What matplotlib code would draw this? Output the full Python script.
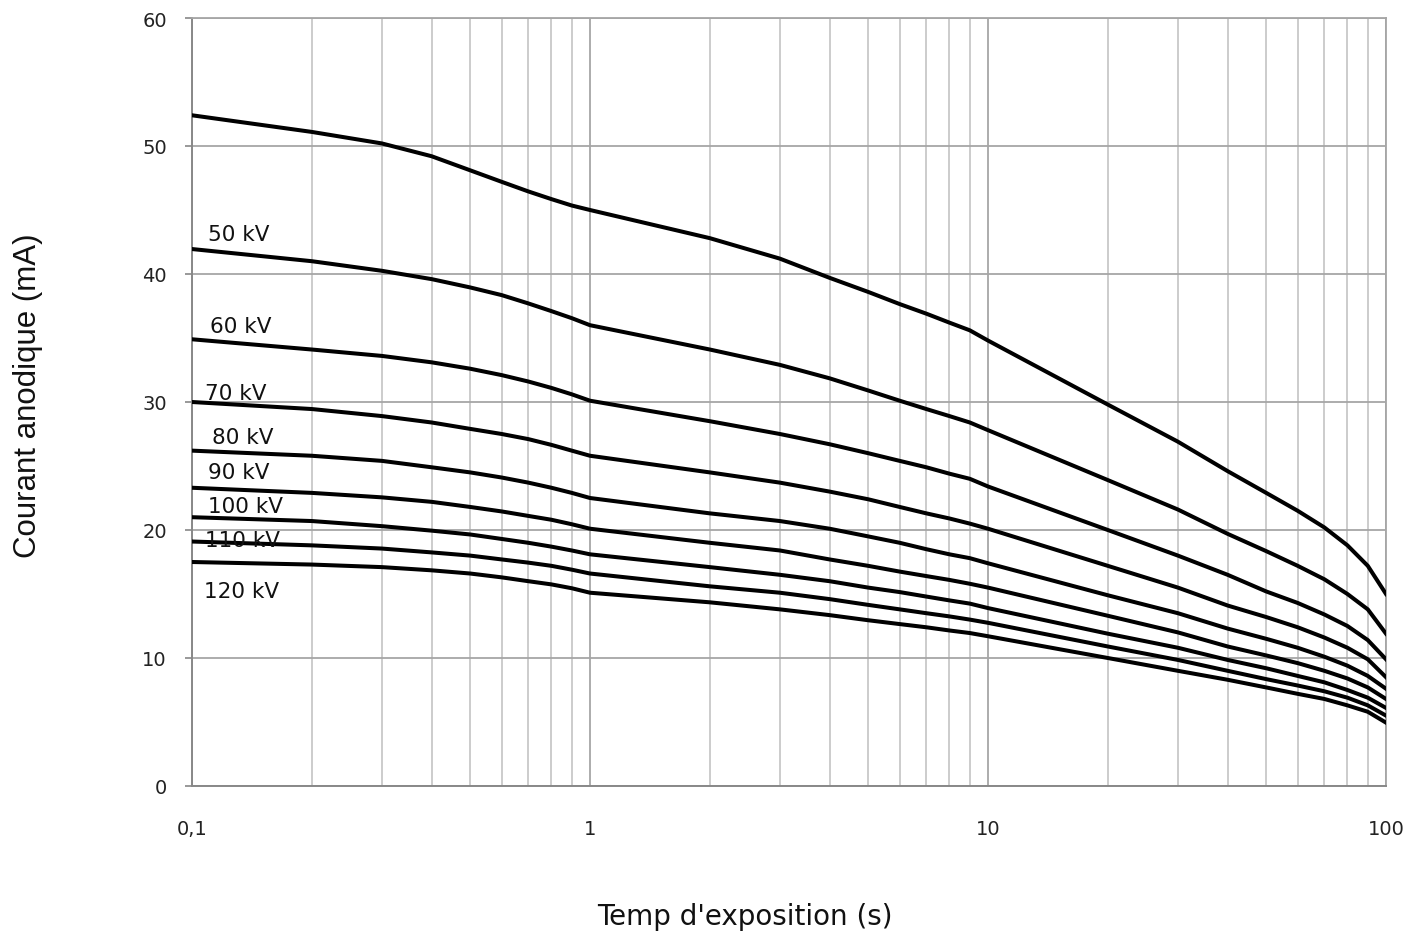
import matplotlib
matplotlib.use("Agg")
import matplotlib.pyplot as plt
from matplotlib.ticker import FixedLocator, LogLocator, NullFormatter

# temps d'exposition (s)
temps = [0.1, 0.2, 0.3, 0.4, 0.5, 0.6, 0.7, 0.8, 0.9, 1,
         2, 3, 4, 5, 6, 7, 8, 9, 10,
         20, 30, 40, 50, 60, 70, 80, 90, 100]

# courant anodique (mA) par courbe
c_top = [52.4, 51.1, 50.2, 49.2, 48.1, 47.2, 46.45, 45.85, 45.35, 45.0,
         42.8, 41.2, 39.7, 38.6, 37.65, 36.9, 36.2, 35.6, 34.8,
         29.8, 26.9, 24.6, 22.9, 21.5, 20.2, 18.8, 17.2, 15.0]
c_50 = [41.95, 41.0, 40.25, 39.6, 38.95, 38.35, 37.7, 37.1, 36.55, 36.0,
        34.1, 32.9, 31.85, 30.9, 30.1, 29.45, 28.9, 28.4, 27.8,
        23.9, 21.6, 19.7, 18.35, 17.2, 16.15, 15.0, 13.8, 11.9]
c_60 = [34.9, 34.1, 33.6, 33.1, 32.6, 32.1, 31.6, 31.1, 30.6, 30.1,
        28.5, 27.5, 26.7, 26.0, 25.4, 24.9, 24.4, 24.0, 23.4,
        20.0, 18.0, 16.5, 15.2, 14.3, 13.4, 12.5, 11.4, 9.9]
c_70 = [30.0, 29.45, 28.9, 28.4, 27.9, 27.5, 27.1, 26.65, 26.2, 25.8,
        24.5, 23.7, 23.0, 22.4, 21.8, 21.3, 20.9, 20.5, 20.1,
        17.2, 15.5, 14.1, 13.2, 12.4, 11.6, 10.8, 9.9, 8.5]
c_80 = [26.2, 25.8, 25.4, 24.9, 24.5, 24.1, 23.7, 23.3, 22.9, 22.5,
        21.3, 20.7, 20.1, 19.5, 19.0, 18.5, 18.1, 17.8, 17.4,
        14.9, 13.5, 12.3, 11.5, 10.8, 10.1, 9.4, 8.6, 7.6]
c_90 = [23.3, 22.9, 22.55, 22.2, 21.8, 21.45, 21.1, 20.8, 20.45, 20.1,
        19.0, 18.4, 17.7, 17.2, 16.75, 16.4, 16.1, 15.8, 15.5,
        13.3, 12.0, 10.9, 10.2, 9.6, 9.0, 8.4, 7.7, 6.8]
c_100 = [21.0, 20.7, 20.3, 19.95, 19.65, 19.3, 19.0, 18.7, 18.4, 18.1,
         17.1, 16.5, 16.0, 15.5, 15.15, 14.8, 14.5, 14.25, 13.9,
         11.9, 10.8, 9.85, 9.2, 8.6, 8.1, 7.5, 6.9, 6.1]
c_110 = [19.1, 18.8, 18.55, 18.25, 18.0, 17.7, 17.45, 17.2, 16.9, 16.6,
         15.6, 15.1, 14.6, 14.15, 13.8, 13.5, 13.25, 13.0, 12.75,
         10.9, 9.85, 9.0, 8.35, 7.85, 7.4, 6.9, 6.3, 5.5]
c_120 = [17.5, 17.3, 17.1, 16.85, 16.6, 16.3, 16.0, 15.75, 15.45, 15.1,
         14.35, 13.8, 13.35, 12.95, 12.65, 12.4, 12.15, 11.95, 11.7,
         10.0, 9.0, 8.3, 7.7, 7.2, 6.8, 6.3, 5.8, 4.95]

courbes = [c_top, c_50, c_60, c_70, c_80, c_90, c_100, c_110, c_120]

# étiquettes des tensions et leur emplacement
etiquettes = ["50 kV", "60 kV", "70 kV", "80 kV", "90 kV", "100 kV", "110 kV", "120 kV"]
etiq_x = [0.1097, 0.111, 0.108, 0.112, 0.110, 0.110, 0.108, 0.107]
etiq_y = [43.1, 35.9, 30.7, 27.3, 24.5, 21.9, 19.2, 15.2]

y_ticks = [0, 10, 20, 30, 40, 50, 60]
x_ticks = [0.1, 1, 10, 100]
x_tick_labels = ["0,1", "1", "10", "100"]

fig = plt.figure(figsize=(14.08, 9.37), dpi=100)
ax = fig.add_axes([192 / 1408, 150 / 937, 1194 / 1408, 768 / 937])

for c in courbes:
    ax.plot(temps, c, color="black", lw=2.9, solid_joinstyle="round", zorder=3)

for txt, xx, yy in zip(etiquettes, etiq_x, etiq_y):
    ax.text(xx, yy, txt, fontsize=15.5, color="#111111", va="center", ha="left", zorder=4)

ax.set_xscale("log")
ax.set_xlim(0.1, 100)
ax.set_ylim(0, 60)

ax.xaxis.set_major_locator(FixedLocator(x_ticks))
ax.set_xticks(x_ticks)
ax.set_xticklabels(x_tick_labels)
ax.xaxis.set_minor_locator(LogLocator(base=10, subs=range(2, 10)))
ax.xaxis.set_minor_formatter(NullFormatter())
ax.set_yticks(y_ticks)

ax.grid(which="major", axis="both", color="#a6a6a6", lw=1.3, zorder=0)
ax.grid(which="minor", axis="x", color="#c4c4c4", lw=1.2, zorder=0)

ax.tick_params(axis="x", which="both", length=0, pad=24, labelsize=14, colors="#222222")
ax.tick_params(axis="y", length=5, width=1.2, pad=13, labelsize=14, colors="#888888",
               labelcolor="#222222")

for s in ["left", "bottom"]:
    ax.spines[s].set_color("#888888")
    ax.spines[s].set_linewidth(1.4)
for s in ["top", "right"]:
    ax.spines[s].set_color("#a6a6a6")
    ax.spines[s].set_linewidth(1.3)

fig.text(745 / 1408, 1 - 917 / 937, "Temp d'exposition (s)", fontsize=20,
         ha="center", va="center", color="#111111")
fig.text(28 / 1408, 1 - 396 / 937, "Courant anodique (mA)", fontsize=22.5,
         family="Liberation Sans", rotation=90, ha="center", va="center", color="#111111")

fig.savefig("out.png", dpi=100)
